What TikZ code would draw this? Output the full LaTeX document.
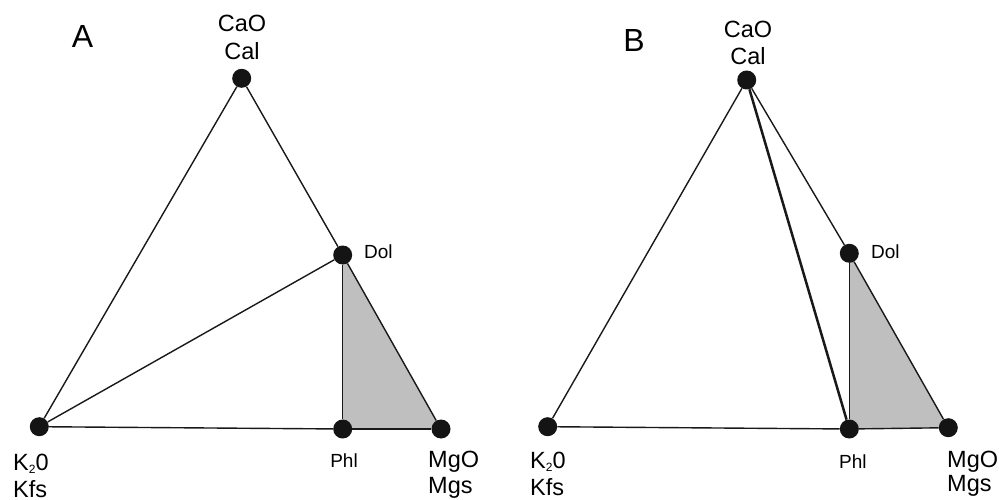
\documentclass[tikz,border=0pt]{standalone}
\usepackage{fontspec}
\setmainfont{Liberation Sans}
\usetikzlibrary{backgrounds}
\newcommand{\subtwo}{\raisebox{-3pt}{\fontsize{12}{12}\selectfont 2}}
\begin{document}
\begin{tikzpicture}[x=1pt,y=-1pt,
  dot/.style={circle,fill=black!92,inner sep=0pt,minimum size=19pt},
  edge/.style={line width=1.4pt,black!90},
  thick edge/.style={line width=2.5pt,black!90},
  region/.style={fill=black!25},
  lbl/.style={font=\fontsize{23.5}{23.5}\selectfont,inner sep=0pt},
  slbl/.style={font=\fontsize{19}{19}\selectfont,inner sep=0pt},
  panel/.style={font=\fontsize{32}{32}\selectfont,inner sep=0pt}]
\useasboundingbox (0,0) rectangle (999,500);

% ---------- Panel A ----------
\node[dot] (aca)  at (241.7,78.3) {};
\node[dot] (ak)   at (39.3,426.7) {};
\node[dot] (aphl) at (342.7,429) {};
\node[dot] (amg)  at (441,429) {};
\node[dot] (adol) at (342.7,255) {};
\begin{pgfonlayer}{background}
  \fill[region] (adol.center) -- (aphl.center) -- (amg.center) -- cycle;
  \draw[edge] (aca) -- (ak);
  \draw[edge] (aca) -- (adol);
  \draw[edge] (adol) -- (amg);
  \draw[edge] (ak) -- (aphl);
  \draw[edge] (aphl) -- (amg);
  \draw[edge] (adol) -- (aphl);
  \draw[edge] (ak) -- (adol);
\end{pgfonlayer}
\node[panel,anchor=base] (aA) at (82.5,48) {A};
\node[lbl,anchor=base] (acao) at (242,32) {CaO};
\node[lbl,anchor=base] (acal) at (242,60) {Cal};
\node[slbl,anchor=base west] (adoll) at (364,258) {Dol};
\node[slbl,anchor=base] (aphll) at (344,467) {Phl};
\node[lbl,anchor=base west] (amgo) at (428,467) {MgO};
\node[lbl,anchor=base west] (amgs) at (428,493) {Mgs};
\node[lbl,anchor=base west] (ako) at (13,470) {K\subtwo0};
\node[lbl,anchor=base west] (akfs) at (13,497) {Kfs};

% ---------- Panel B ----------
\node[dot] (bca)  at (746.7,80) {};
\node[dot] (bk)   at (547.7,426.7) {};
\node[dot] (bphl) at (849.3,429) {};
\node[dot] (bmg)  at (948.3,427.7) {};
\node[dot] (bdol) at (849.3,253.3) {};
\begin{pgfonlayer}{background}
  \fill[region] (bdol.center) -- (bphl.center) -- (bmg.center) -- cycle;
  \draw[edge] (bca) -- (bk);
  \draw[edge] (bca) -- (bdol);
  \draw[edge] (bdol) -- (bmg);
  \draw[edge] (bk) -- (bphl);
  \draw[edge] (bphl) -- (bmg);
  \draw[edge] (bdol) -- (bphl);
  \draw[thick edge] (bca) -- (bphl);
\end{pgfonlayer}
\node[panel,anchor=base] (bB) at (634,52) {B};
\node[lbl,anchor=base] (bcao) at (748,38) {CaO};
\node[lbl,anchor=base] (bcal) at (748,65) {Cal};
\node[slbl,anchor=base west] (bdoll) at (871,258) {Dol};
\node[slbl,anchor=base west] (bphll) at (839,468) {Phl};
\node[lbl,anchor=base west] (bmgo) at (947,467) {MgO};
\node[lbl,anchor=base west] (bmgs) at (947,491) {Mgs};
\node[lbl,anchor=base west] (bko) at (530,468) {K\subtwo0};
\node[lbl,anchor=base west] (bkfs) at (530,495) {Kfs};
\end{tikzpicture}
\end{document}
